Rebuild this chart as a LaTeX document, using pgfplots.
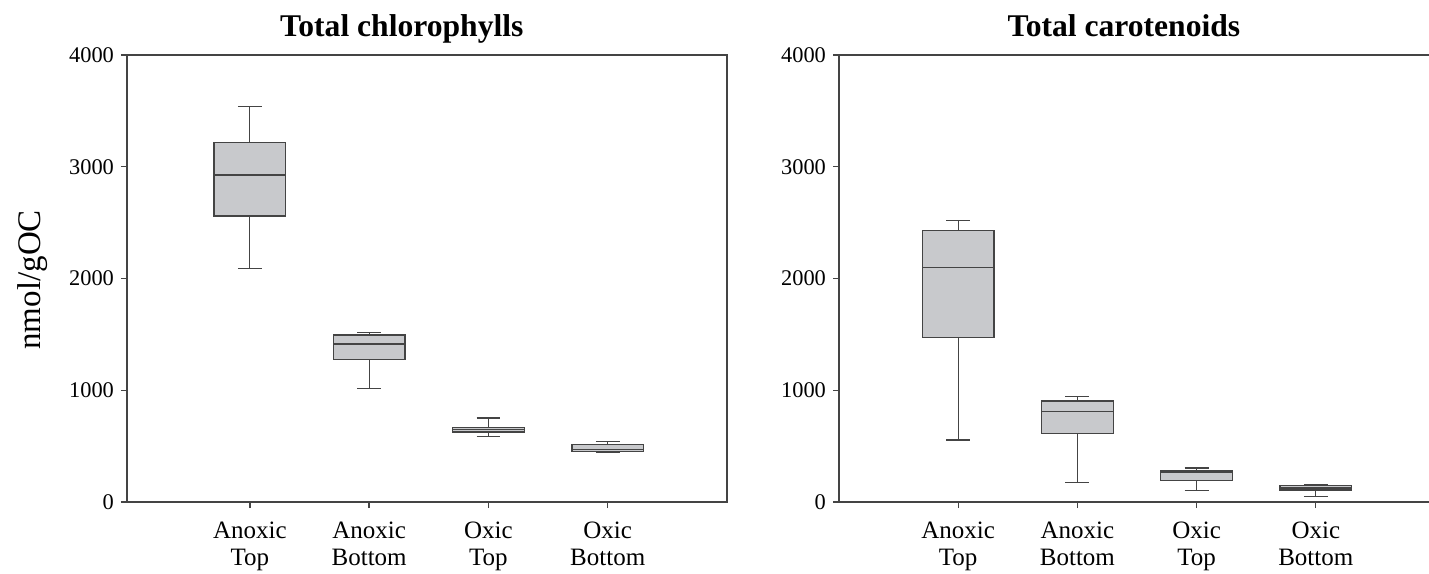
\documentclass[border=0pt]{standalone}
\usepackage{fontspec}
\setmainfont{Liberation Serif}
\usepackage{pgfplots}
\pgfplotsset{compat=1.18}
\definecolor{boxgray}{RGB}{200,201,204}
\definecolor{linegray}{RGB}{68,68,68}

\pgfplotsset{
  mybox/.style={
    scale only axis,
    height=223.5pt,
    ymin=0, ymax=4000,
    ytick={0,1000,2000,3000,4000},
    xtick={1,2,3,4},
    xticklabels={Anoxic\\Top, Anoxic\\Bottom, Oxic\\Top, Oxic\\Bottom},
    xticklabel style={align=center, font=\fontsize{12.5}{13.6}\selectfont, yshift=-3.5pt},
    yticklabel style={font=\fontsize{11.2}{13}\selectfont},
    /pgf/number format/assume math mode=true,
    /pgf/number format/1000 sep={},
    tick align=outside,
    tick pos=left,
    major tick length=3pt,
    tick style={linegray, line width=0.65pt},
    axis line style={linegray, line width=0.75pt},
    title style={font=\bfseries\fontsize{15.8}{18}\selectfont, anchor=base},
    unbounded coords=jump,
  },
  bxf/.style={solid, draw=linegray, line width=0.6pt, fill=boxgray, mark=none},
  bxl/.style={solid, draw=linegray, line width=0.6pt, mark=none},
}

\begin{document}
\begin{tikzpicture}
\path[use as bounding box] (0,0) rectangle (714.5pt,286.5pt);
\clip (0,0) rectangle (714.5pt,286.5pt);

\begin{axis}[mybox,
  at={(63.5pt,35.5pt)}, anchor=south west,
  width=300pt, xmin=-0.03, xmax=5,
  title={Total chlorophylls},
  title style={at={(axis description cs:0.458,1)}, yshift=3pt},
  ylabel={nmol/gOC},
  ylabel style={at={(axis description cs:-0.157,0.497)}, anchor=center, font=\fontsize{16.5}{18}\selectfont},
]
% Anoxic Top: whiskers 2088/3537, box 2559-3219, median 2926
\addplot[bxf] coordinates {(0.7,2559) (1.3,2559) (1.3,3219) (0.7,3219)} -- cycle;
\addplot[bxl] coordinates {(0.7,2926) (1.3,2926) (1,nan) (1,3219) (1,3537) (1,nan) (0.9,3537) (1.1,3537) (1,nan) (1,2559) (1,2088) (1,nan) (0.9,2088) (1.1,2088)};
% Anoxic Bottom
\addplot[bxf] coordinates {(1.7,1277) (2.3,1277) (2.3,1494) (1.7,1494)} -- cycle;
\addplot[bxl] coordinates {(1.7,1414) (2.3,1414) (2,nan) (2,1494) (2,1515) (2,nan) (1.9,1515) (2.1,1515) (2,nan) (2,1277) (2,1017) (2,nan) (1.9,1017) (2.1,1017)};
% Oxic Top
\addplot[bxf] coordinates {(2.7,626) (3.3,626) (3.3,668) (2.7,668)} -- cycle;
\addplot[bxl] coordinates {(2.7,647) (3.3,647) (3,nan) (3,668) (3,752) (3,nan) (2.9,752) (3.1,752) (3,nan) (3,626) (3,585) (3,nan) (2.9,585) (3.1,585)};
% Oxic Bottom
\addplot[bxf] coordinates {(3.7,450) (4.3,450) (4.3,516) (3.7,516)} -- cycle;
\addplot[bxl] coordinates {(3.7,472) (4.3,472) (4,nan) (4,516) (4,543) (4,nan) (3.9,543) (4.1,543) (4,nan) (4,450) (4,441) (4,nan) (3.9,441) (4.1,441)};
\end{axis}

\begin{axis}[mybox,
  at={(419.5pt,35.5pt)}, anchor=south west,
  width=298pt, xmin=0, xmax=5,
  title={Total carotenoids},
  title style={at={(axis description cs:0.478,1)}, yshift=3pt},
]
% Anoxic Top
\addplot[bxf] coordinates {(0.7,1470) (1.3,1470) (1.3,2431) (0.7,2431)} -- cycle;
\addplot[bxl] coordinates {(0.7,2097) (1.3,2097) (1,nan) (1,2431) (1,2517) (1,nan) (0.9,2517) (1.1,2517) (1,nan) (1,1470) (1,555) (1,nan) (0.9,555) (1.1,555)};
% Anoxic Bottom
\addplot[bxf] coordinates {(1.7,614) (2.3,614) (2.3,904) (1.7,904)} -- cycle;
\addplot[bxl] coordinates {(1.7,808) (2.3,808) (2,nan) (2,904) (2,942) (2,nan) (1.9,942) (2.1,942) (2,nan) (2,614) (2,173) (2,nan) (1.9,173) (2.1,173)};
% Oxic Top
\addplot[bxf] coordinates {(2.7,192) (3.3,192) (3.3,283) (2.7,283)} -- cycle;
\addplot[bxl] coordinates {(2.7,268) (3.3,268) (3,nan) (3,283) (3,304) (3,nan) (2.9,304) (3.1,304) (3,nan) (3,192) (3,101) (3,nan) (2.9,101) (3.1,101)};
% Oxic Bottom
\addplot[bxf] coordinates {(3.7,107) (4.3,107) (4.3,146) (3.7,146)} -- cycle;
\addplot[bxl] coordinates {(3.7,125) (4.3,125) (4,nan) (4,146) (4,155) (4,nan) (3.9,155) (4.1,155) (4,nan) (4,107) (4,47) (4,nan) (3.9,47) (4.1,47)};
\end{axis}
\end{tikzpicture}
\end{document}
